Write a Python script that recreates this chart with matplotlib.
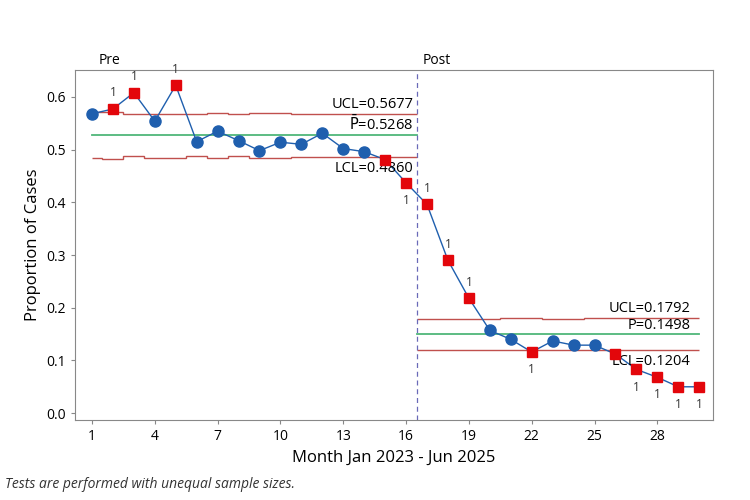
import matplotlib
matplotlib.use("Agg")
import matplotlib.pyplot as plt
import numpy as np

plt.rcParams["font.family"] = ["Open Sans", "DejaVu Sans"]

# Monatliche Anteile
months = list(range(1, 31))
proportion = [0.568, 0.577, 0.608, 0.554, 0.622, 0.515, 0.535, 0.517, 0.498, 0.514,
              0.510, 0.531, 0.502, 0.496, 0.481, 0.437,
              0.396, 0.290, 0.218, 0.157, 0.140, 0.116, 0.137, 0.129, 0.129, 0.112,
              0.083, 0.068, 0.050, 0.050]
# Punkte ausserhalb der Grenzen (Test 1)
flagged = [2, 3, 5, 15, 16, 17, 18, 19, 22, 26, 27, 28, 29, 30]
flag_above = [2, 3, 5, 17, 18, 19]
flag_below = [16, 22, 27, 28, 29, 30]

# Kontrollgrenzen je Monat
ucl_pre = [0.571, 0.571, 0.567, 0.567, 0.567, 0.567, 0.570, 0.567, 0.570, 0.570,
           0.568, 0.568, 0.568, 0.568, 0.568, 0.568]
lcl_pre = [0.485, 0.482, 0.487, 0.485, 0.485, 0.487, 0.484, 0.487, 0.484, 0.484,
           0.486, 0.486, 0.486, 0.486, 0.486, 0.486]
ucl_post = [0.179, 0.179, 0.179, 0.179, 0.180, 0.180, 0.179, 0.179, 0.180, 0.180,
            0.180, 0.180, 0.180, 0.180]
lcl_post = [0.1204] * 14
p_pre = 0.5268
p_post = 0.1498

blue = "#1f5fae"
red = "#e3060b"
limit_col = "#c0504d"
center_col = "#4fb67a"

fig = plt.figure(figsize=(7.5, 5), dpi=100)
ax = fig.add_axes([0.1, 0.16, 0.851, 0.70])

# Grenzen als Stufen
edges_pre = [1] + [m + 0.5 for m in range(1, 17)]
edges_post = [16.5] + [m + 0.5 for m in range(17, 30)] + [30]
ax.stairs(ucl_pre, edges_pre, baseline=None, color=limit_col, lw=1.0)
ax.stairs(lcl_pre, edges_pre, baseline=None, color=limit_col, lw=1.0)
ax.stairs(ucl_post, edges_post, baseline=None, color=limit_col, lw=1.0)
ax.stairs(lcl_post, edges_post, baseline=None, color=limit_col, lw=1.0)
ax.plot([1, 16.5], [p_pre, p_pre], color=center_col, lw=1.3)
ax.plot([16.5, 30], [p_post, p_post], color=center_col, lw=1.3)

ax.axvline(16.5, color="#6a6ab8", ls=(0, (4, 3)), lw=0.9)

# Datenlinie
ax.plot(months, proportion, color=blue, lw=1.0, zorder=3)
ok_x = [m for m in months if m not in flagged]
ok_y = [proportion[m - 1] for m in ok_x]
bad_y = [proportion[m - 1] for m in flagged]
ax.plot(ok_x, ok_y, "o", color=blue, ms=8, zorder=4)
ax.plot(flagged, bad_y, "s", color=red, ms=7, zorder=4)

for m in flag_above:
    ax.annotate("1", (m, proportion[m - 1]), xytext=(0, 7), textcoords="offset points",
                ha="center", va="bottom", fontsize=8.5, color="#333333")
for m in flag_below:
    ax.annotate("1", (m, proportion[m - 1]), xytext=(0, -8), textcoords="offset points",
                ha="center", va="top", fontsize=8.5, color="#333333")

# Beschriftung der Grenzen
ax.text(16.35, 0.572, "UCL=0.5677", ha="right", va="bottom", fontsize=10.5)
ax.text(16.35, 0.530, r"$\bar{\mathrm{P}}$=0.5268", ha="right", va="bottom", fontsize=10.5)
ax.text(16.35, 0.478, "LCL=0.4860", ha="right", va="top", fontsize=10.5)
ax.text(29.6, 0.184, "UCL=0.1792", ha="right", va="bottom", fontsize=10.5)
ax.text(29.6, 0.152, "P=0.1498", ha="right", va="bottom", fontsize=10.5)
ax.text(29.6, 0.112, "LCL=0.1204", ha="right", va="top", fontsize=10.5)

ax.text(1.3, 0.655, "Pre", ha="left", va="bottom", fontsize=10)
ax.text(16.8, 0.655, "Post", ha="left", va="bottom", fontsize=10)

ax.set_xlim(0.19, 30.67)
ax.set_ylim(-0.013, 0.651)
ax.set_xticks(range(1, 29, 3))
ax.set_yticks(np.arange(0, 0.61, 0.1))
ax.set_yticklabels([f"{v:.1f}" for v in np.arange(0, 0.61, 0.1)])
ax.tick_params(labelsize=10, length=3, color="#888888")
for s in ax.spines.values():
    s.set_color("#888888")

ax.set_xlabel("Month Jan 2023 - Jun 2025", fontsize=12)
ax.set_ylabel("Proportion of Cases", fontsize=12)

fig.text(0.007, 0.025, "Tests are performed with unequal sample sizes.", fontsize=10,
         style="italic", color="#333333")

fig.savefig("out.png", dpi=100)
print("saved out.png")
